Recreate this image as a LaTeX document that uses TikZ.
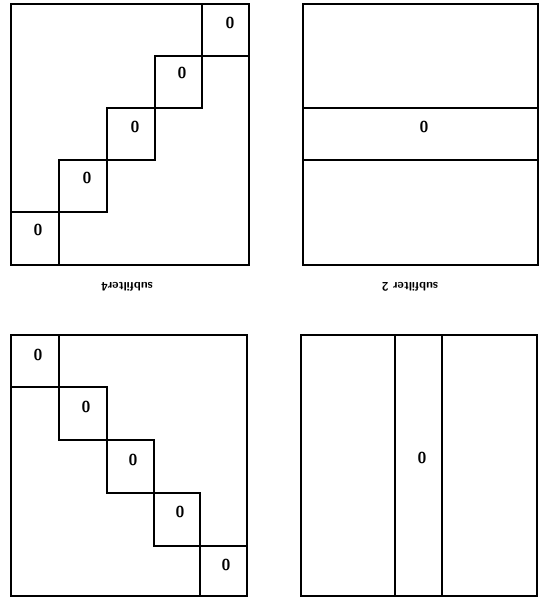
\documentclass[tikz,border=0pt]{standalone}
\usepackage{tikz}
\usetikzlibrary{positioning}

\begin{document}
\begin{tikzpicture}[x=0.02cm, y=-0.02cm,
    panel/.style={draw, line width=1.1pt},
    cell/.style={draw, line width=1.1pt},
    coef/.style={font=\sffamily\bfseries\small, inner sep=0pt, rotate=180},
    caption/.style={font=\sffamily\bfseries\scriptsize, inner sep=1pt, rotate=180}
]
    \useasboundingbox (0,0) rectangle (541,598);

    % upper left: staircase of blocks
    \draw[panel] (11,4) rectangle (249,265);
    \draw[cell] (202,4) rectangle (249,56);
    \draw[cell] (155,56) rectangle (202,108);
    \draw[cell] (107,108) rectangle (155,160);
    \draw[cell] (59,160) rectangle (107,212);
    \draw[cell] (11,212) rectangle (59,265);
    \node[coef] (ul1) at (230,23) {0};
    \node[coef] (ul2) at (182,73) {0};
    \node[coef] (ul3) at (135,127) {0};
    \node[coef] (ul4) at (87,178) {0};
    \node[coef] (ul5) at (38,230) {0};
    \node[caption] (capl) at (127,287) {subfilter4};

    % upper right: one band across
    \draw[panel] (303,4) rectangle (538,265);
    \draw[cell] (303,108) rectangle (538,160);
    \node[coef] (ur1) at (424,127) {0};
    \node[caption] (capr) at (410,287) {subfilter 2};

    % lower left: diagonal blocks
    \draw[panel] (11,335) rectangle (247,596);
    \draw[cell] (11,335) rectangle (59,387);
    \draw[cell] (59,387) rectangle (107,440);
    \draw[cell] (107,440) rectangle (154,493);
    \draw[cell] (154,493) rectangle (200,546);
    \draw[cell] (200,546) rectangle (247,596);
    \node[coef] (ll1) at (38,355) {0};
    \node[coef] (ll2) at (86,407) {0};
    \node[coef] (ll3) at (133,460) {0};
    \node[coef] (ll4) at (180,512) {0};
    \node[coef] (ll5) at (226,565) {0};

    % lower right: one band down
    \draw[panel] (301,335) rectangle (537,596);
    \draw[cell] (395,335) rectangle (442,596);
    \node[coef] (lr1) at (422,458) {0};
\end{tikzpicture}
\end{document}
